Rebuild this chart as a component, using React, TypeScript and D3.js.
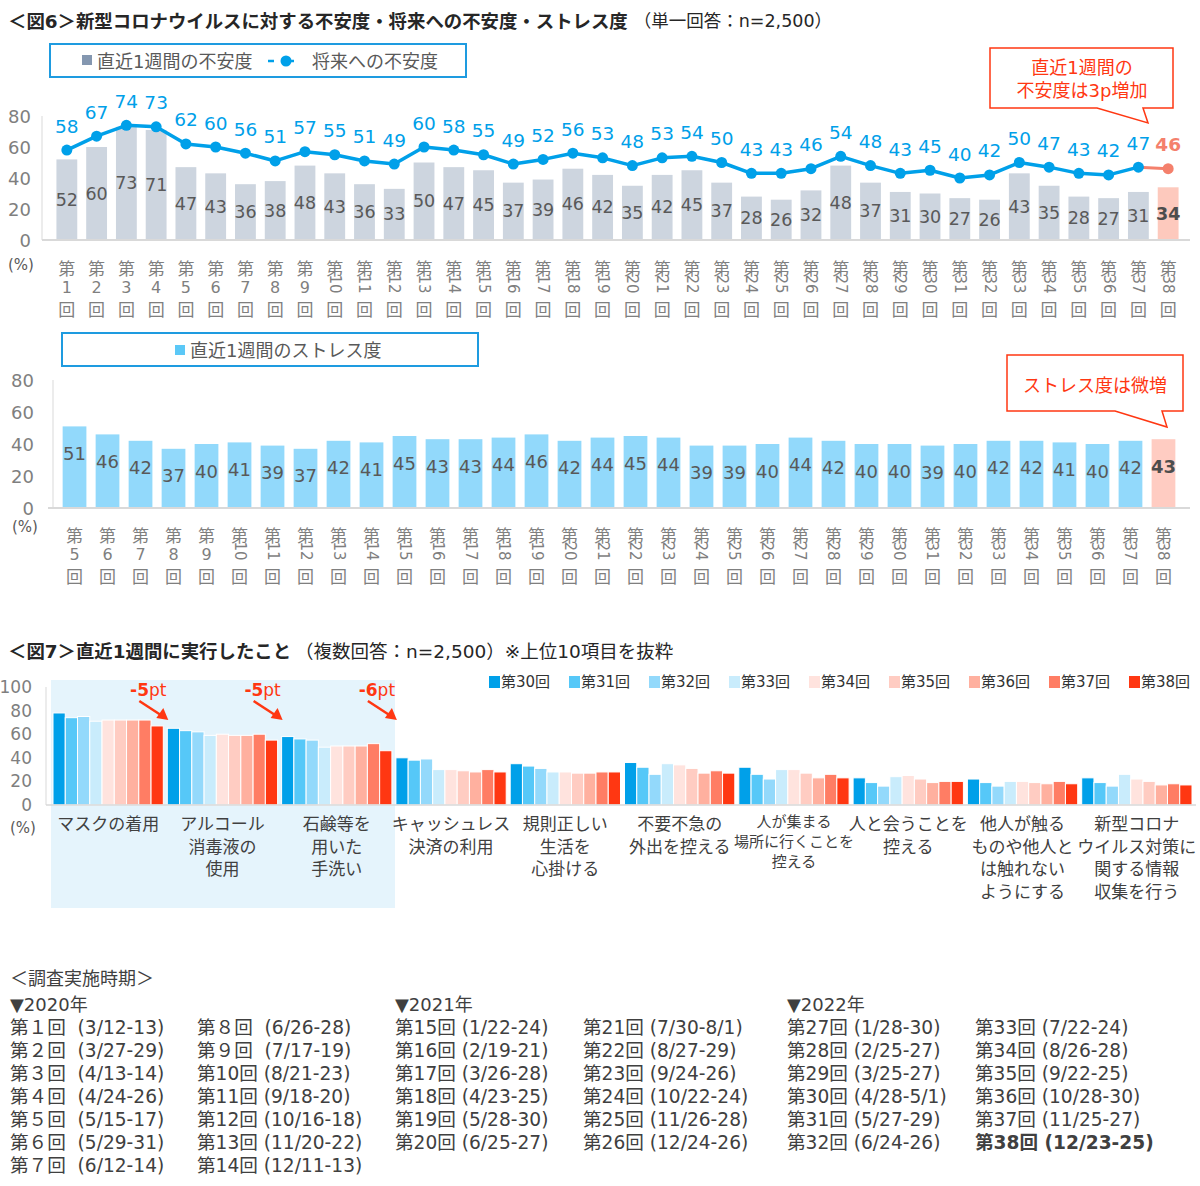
import React from 'react';
import * as d3 from 'd3';

const FONT = "'DejaVu Sans', 'Noto Sans CJK JP', sans-serif";
const FONT_JP = "'Noto Sans CJK JP', sans-serif";

// ---------- Figure 6 data ----------
const rounds1 = d3.range(1, 39);
const anxietyRecent = [52, 60, 73, 71, 47, 43, 36, 38, 48, 43, 36, 33, 50, 47, 45, 37, 39, 46, 42, 35, 42, 45, 37, 28, 26, 32, 48, 37, 31, 30, 27, 26, 43, 35, 28, 27, 31, 34];
const anxietyFuture = [58, 67, 74, 73, 62, 60, 56, 51, 57, 55, 51, 49, 60, 58, 55, 49, 52, 56, 53, 48, 53, 54, 50, 43, 43, 46, 54, 48, 43, 45, 40, 42, 50, 47, 43, 42, 47, 46];
const rounds2 = d3.range(5, 39);
const stressRecent = [51, 46, 42, 37, 40, 41, 39, 37, 42, 41, 45, 43, 43, 44, 46, 42, 44, 45, 44, 39, 39, 40, 44, 42, 40, 40, 39, 40, 42, 42, 41, 40, 42, 43];
const ticks80 = [0, 20, 40, 60, 80];

// ---------- Figure 7 data ----------
const actRounds = ['第30回', '第31回', '第32回', '第33回', '第34回', '第35回', '第36回', '第37回', '第38回'];
const actColors = ['#00A0E9', '#56C8F8', '#93D9FB', '#C9ECFC', '#FFE3DE', '#FFCCC2', '#FFB09F', '#FF7D64', '#FF3712'];
const actCategories = [
  ['マスクの着用'],
  ['アルコール', '消毒液の', '使用'],
  ['石鹸等を', '用いた', '手洗い'],
  ['キャッシュレス', '決済の利用'],
  ['規則正しい', '生活を', '心掛ける'],
  ['不要不急の', '外出を控える'],
  ['人が集まる', '場所に行くことを', '控える'],
  ['人と会うことを', '控える'],
  ['他人が触る', 'ものや他人と', 'は触れない', 'ようにする'],
  ['新型コロナ', 'ウイルス対策に', '関する情報', '収集を行う'],
];
const actValues = [
  [78, 74, 75, 71, 72, 72, 72, 72, 67],
  [65, 63, 62, 59, 60, 59, 59, 60, 55],
  [58, 56, 55, 49, 50, 50, 50, 52, 46],
  [40, 38, 39, 30, 30, 29, 28, 30, 28],
  [35, 33, 31, 28, 28, 27, 27, 28, 28],
  [36, 32, 26, 35, 34, 31, 27, 29, 27],
  [32, 26, 22, 30, 30, 27, 23, 26, 23],
  [23, 19, 16, 24, 25, 22, 19, 20, 20],
  [22, 19, 16, 20, 20, 19, 18, 20, 18],
  [23, 19, 16, 26, 22, 20, 17, 18, 17],
];
const ticks100 = [0, 20, 40, 60, 80, 100];
const diffNotes = ['-5', '-5', '-6'];

// ---------- Schedule ----------
const scheduleCols = [
  ['第１回\u00A0 (3/12-13)', '第２回\u00A0 (3/27-29)', '第３回\u00A0 (4/13-14)', '第４回\u00A0 (4/24-26)', '第５回\u00A0 (5/15-17)', '第６回\u00A0 (5/29-31)', '第７回\u00A0 (6/12-14)'],
  ['第８回\u00A0 (6/26-28)', '第９回\u00A0 (7/17-19)', '第10回 (8/21-23)', '第11回 (9/18-20)', '第12回 (10/16-18)', '第13回 (11/20-22)', '第14回 (12/11-13)'],
  ['第15回 (1/22-24)', '第16回 (2/19-21)', '第17回 (3/26-28)', '第18回 (4/23-25)', '第19回 (5/28-30)', '第20回 (6/25-27)'],
  ['第21回 (7/30-8/1)', '第22回 (8/27-29)', '第23回 (9/24-26)', '第24回 (10/22-24)', '第25回 (11/26-28)', '第26回 (12/24-26)'],
  ['第27回 (1/28-30)', '第28回 (2/25-27)', '第29回 (3/25-27)', '第30回 (4/28-5/1)', '第31回 (5/27-29)', '第32回 (6/24-26)'],
  ['第33回 (7/22-24)', '第34回 (8/26-28)', '第35回 (9/22-25)', '第36回 (10/28-30)', '第37回 (11/25-27)', '第38回 (12/23-25)'],
];
const scheduleYears = ['▼2020年', '▼2021年', '▼2022年'];

const GRAY_TXT = '#595959';
const AXIS_TXT = '#7F7F7F';
const RED = '#FF3712';

function RoundLabel({ cx, n, yA, yB1, yB2, yC }: { cx: number; n: number; yA: number; yB1: number; yB2: number; yC: number }) {
  return (
    <g fill={AXIS_TXT} fontSize={17} textAnchor="middle">
      <text x={cx} y={yA} dominantBaseline="central" fontFamily={FONT_JP}>第</text>
      {n < 10 ? (
        <text x={cx} y={yB1} dominantBaseline="central" fontSize={16}>{n}</text>
      ) : (
        <text transform={`translate(${cx},${yB2}) rotate(90)`} dominantBaseline="central" fontSize={15}>{n}</text>
      )}
      <text x={cx} y={yC} dominantBaseline="central" fontFamily={FONT_JP}>回</text>
    </g>
  );
}

export default function App() {
  // Figure 6 top
  const x1 = d3.scaleBand<number>().domain(rounds1).range([47.5, 1187.5]).padding(0.3);
  const y1 = d3.scaleLinear().domain([0, 80]).range([240, 116]);
  const cx1 = (r: number) => (x1(r) as number) + x1.bandwidth() / 2;
  const linePts = anxietyFuture.map((v, i) => [cx1(rounds1[i]), y1(v)] as [number, number]);
  const lineGen = d3.line();
  const mainLine = lineGen(linePts.slice(0, linePts.length - 1)) as string;
  const lastLine = lineGen(linePts.slice(linePts.length - 2)) as string;

  // Figure 6 stress
  const x2 = d3.scaleBand<number>().domain(rounds2).range([53.4, 1184.6]).padding(0.28);
  const y2 = d3.scaleLinear().domain([0, 80]).range([508, 380]);
  const cx2 = (r: number) => (x2(r) as number) + x2.bandwidth() / 2;

  // Figure 7
  const catIdx = actCategories.map((_, i) => i);
  const gx = d3.scaleBand<number>().domain(catIdx).range([51, 1194]).paddingInner(0.035).paddingOuter(0.0175);
  const ix = d3.scaleBand<string>().domain(actRounds).range([0, gx.bandwidth()]);
  const y7 = d3.scaleLinear().domain([0, 100]).range([805, 687]);

  const schedX = [10, 197, 395, 583, 787, 975];
  const rowY = (i: number) => 1027 + i * 23;

  return (
    <div style={{ position: 'absolute', left: 0, top: 0 }}>
      <svg width={1200} height={1186} fontFamily={FONT} style={{ display: 'block', background: '#fff' }}>
        <rect x={0} y={0} width={1200} height={1186} fill="#fff" />
        {/* Title fig6 */}
        <text x={8} y={21} dominantBaseline="central" fill="#262626">
          <tspan fontSize={18.4} fontWeight="bold">＜図6＞新型コロナウイルスに対する不安度・将来への不安度・ストレス度</tspan>
          <tspan fontSize={17.5} dx={6}>（単一回答：n=2,500）</tspan>
        </text>

        {/* Legend 1 */}
        <rect x={50} y={44} width={416} height={33} fill="#fff" stroke="#1E9BE0" strokeWidth={2} />
        <rect x={82} y={55} width={10} height={10} fill="#8497B0" />
        <text x={97} y={61} fontSize={18} fill={GRAY_TXT} dominantBaseline="central">直近1週間の不安度</text>
        <line x1={268} y1={61} x2={304} y2={61} stroke="#00A0E9" strokeWidth={2.5} strokeDasharray="6 14" />
        <circle cx={286} cy={61} r={5.5} fill="#00A0E9" />
        <text x={312} y={61} fontSize={18} fill={GRAY_TXT} dominantBaseline="central">将来への不安度</text>

        {/* Axes top */}
        <line x1={42} y1={116} x2={42} y2={240} stroke="#D9D9D9" strokeWidth={1} />
        {ticks80.map((t) => (
          <text key={t} x={31} y={y1(t)} fontSize={18} fill={AXIS_TXT} textAnchor="end" dominantBaseline="central">{t}</text>
        ))}
        <text x={8} y={265} fontSize={15} fill={GRAY_TXT} dominantBaseline="central">(%)</text>

        {/* Bars top */}
        {anxietyRecent.map((v, i) => {
          const r = rounds1[i];
          const last = i === anxietyRecent.length - 1;
          return (
            <g key={r}>
              <rect x={x1(r)} y={y1(v)} width={x1.bandwidth()} height={y1(0) - y1(v)} fill={last ? '#FDC9BD' : '#CDD5DF'} />
              <text x={cx1(r)} y={(y1(v) + y1(0)) / 2} fontSize={17.5} textAnchor="middle" dominantBaseline="central"
                fill={last ? '#4D4D4D' : GRAY_TXT} fontWeight={last ? 'bold' : 'normal'}>{v}</text>
            </g>
          );
        })}
        <line x1={42} y1={240} x2={1190} y2={240} stroke="#D9D9D9" strokeWidth={2} />

        {/* Line top */}
        <path d={mainLine} fill="none" stroke="#00A0E9" strokeWidth={3.5} strokeLinejoin="round" />
        <path d={lastLine} fill="none" stroke="#F4806C" strokeWidth={3} />
        {linePts.map((p, i) => {
          const last = i === linePts.length - 1;
          return (
            <g key={i}>
              <circle cx={p[0]} cy={p[1]} r={5.5} fill={last ? '#F4806C' : '#00A0E9'} />
              <text x={p[0]} y={p[1] - 24} fontSize={18.5} textAnchor="middle" dominantBaseline="central"
                fill={last ? '#F4806C' : '#00A0E9'} fontWeight={last ? 'bold' : 'normal'}>{anxietyFuture[i]}</text>
            </g>
          );
        })}
        {rounds1.map((r) => (
          <RoundLabel key={r} cx={cx1(r)} n={r} yA={267} yB1={287} yB2={284} yC={308} />
        ))}

        {/* Callout 1 */}
        <path d="M990,48 H1173 V108 H1143 L1148,123 L1097,108 H990 Z" fill="#fff" stroke={RED} strokeWidth={1.5} />
        <text x={1082} y={67} fontSize={18} fill={RED} textAnchor="middle" dominantBaseline="central">直近1週間の</text>
        <text x={1082} y={90} fontSize={18} fill={RED} textAnchor="middle" dominantBaseline="central">不安度は3p増加</text>

        {/* Legend 2 */}
        <rect x={62} y={333} width={416} height={33} fill="#fff" stroke="#1E9BE0" strokeWidth={2} />
        <rect x={175} y={345} width={10} height={10} fill="#5BC8F7" />
        <text x={190} y={350} fontSize={18} fill={GRAY_TXT} dominantBaseline="central">直近1週間のストレス度</text>

        {/* Axes stress */}
        <line x1={53} y1={380} x2={53} y2={508} stroke="#D9D9D9" strokeWidth={1} />
        {ticks80.map((t) => (
          <text key={t} x={34} y={y2(t)} fontSize={18} fill={AXIS_TXT} textAnchor="end" dominantBaseline="central">{t}</text>
        ))}
        <text x={12} y={527} fontSize={15} fill={GRAY_TXT} dominantBaseline="central">(%)</text>
        {stressRecent.map((v, i) => {
          const r = rounds2[i];
          const last = i === stressRecent.length - 1;
          return (
            <g key={r}>
              <rect x={x2(r)} y={y2(v)} width={x2.bandwidth()} height={y2(0) - y2(v)} fill={last ? '#FFCCC2' : '#92D9FB'} />
              <text x={cx2(r)} y={y2(v) + 27} fontSize={18} textAnchor="middle" dominantBaseline="central"
                fill={last ? '#4D4D4D' : GRAY_TXT} fontWeight={last ? 'bold' : 'normal'}>{v}</text>
            </g>
          );
        })}
        <line x1={48} y1={508} x2={1190} y2={508} stroke="#D9D9D9" strokeWidth={2} />
        {rounds2.map((r) => (
          <RoundLabel key={r} cx={cx2(r)} n={r} yA={534} yB1={554} yB2={551} yC={575} />
        ))}

        {/* Callout 2 */}
        <path d="M1007,355 H1183 V411 H1162 L1167,427 L1115,411 H1007 Z" fill="#fff" stroke={RED} strokeWidth={1.5} />
        <text x={1095} y={385} fontSize={18} fill={RED} textAnchor="middle" dominantBaseline="central">ストレス度は微増</text>

        {/* Title fig7 */}
        <text x={8} y={651} dominantBaseline="central" fill="#262626">
          <tspan fontSize={18.4} fontWeight="bold">＜図7＞直近1週間に実行したこと</tspan>
          <tspan fontSize={18.5} dx={4}>（複数回答：n=2,500）※上位10項目を抜粋</tspan>
        </text>

        {/* Legend fig7 */}
        {actRounds.map((r, i) => (
          <g key={r}>
            <rect x={489 + i * 80} y={676} width={11} height={12} fill={actColors[i]} />
            <text x={501 + i * 80} y={682} fontSize={15} fill="#333" dominantBaseline="central">{r}</text>
          </g>
        ))}

        {/* Shaded background */}
        <rect x={51} y={680} width={344} height={228} fill="#E5F4FC" />

        {/* Axes fig7 */}
        <line x1={46} y1={687} x2={46} y2={805} stroke="#D9D9D9" strokeWidth={1} />
        {ticks100.map((t) => (
          <text key={t} x={32} y={y7(t)} fontSize={17} fill={AXIS_TXT} textAnchor="end" dominantBaseline="central">{t}</text>
        ))}
        <text x={10} y={828} fontSize={15} fill={GRAY_TXT} dominantBaseline="central">(%)</text>

        {actValues.map((vals, gi) => (
          <g key={gi} transform={`translate(${gx(gi)},0)`}>
            {vals.map((v, bi) => (
              <rect key={bi} x={ix(actRounds[bi])} y={y7(v)} width={ix.bandwidth()} height={y7(0) - y7(v)}
                fill={actColors[bi]} stroke="#fff" strokeWidth={1} />
            ))}
          </g>
        ))}
        <line x1={46} y1={805} x2={1196} y2={805} stroke="#D9D9D9" strokeWidth={1.5} />

        {/* Category labels */}
        {actCategories.map((lines, gi) => {
          const cx = (gx(gi) as number) + gx.bandwidth() / 2;
          const small = gi === 6;
          const lh = small ? 20 : 22.5;
          return (
            <g key={gi} fill="#404040" fontSize={small ? 15 : 17} textAnchor="middle">
              {lines.map((l, li) => (
                <text key={li} x={cx} y={(small ? 822 : 824) + li * lh} dominantBaseline="central">{l}</text>
              ))}
            </g>
          );
        })}

        {/* Diff annotations */}
        {diffNotes.map((d, i) => {
          const end = (gx(i) as number) + gx.bandwidth() + 4;
          return (
            <g key={i}>
              <text x={end - 19} y={690} fontSize={17} fill={RED} textAnchor="middle" dominantBaseline="central">
                <tspan fontWeight="bold">{d}</tspan>
                <tspan>pt</tspan>
              </text>
              <line x1={end - 28} y1={701} x2={end - 5} y2={716} stroke={RED} strokeWidth={2.5} />
              <path d={`M${end + 1},${720} L${end - 11},${718} L${end - 4},${708} Z`} fill={RED} />
            </g>
          );
        })}

        {/* Schedule */}
        <text x={10} y={978} fontSize={18} fill="#404040" dominantBaseline="central">＜調査実施時期＞</text>
        {scheduleYears.map((yname, i) => (
          <text key={yname} x={schedX[i * 2]} y={1004} fontSize={18} fill="#404040" dominantBaseline="central">{yname}</text>
        ))}
        {scheduleCols.map((col, ci) => (
          <g key={ci}>
            {col.map((s, ri) => {
              const bold = ci === 5 && ri === col.length - 1;
              return (
                <text key={ri} x={schedX[ci]} y={rowY(ri)} fontSize={18.6} fill="#404040" dominantBaseline="central"
                  fontWeight={bold ? 'bold' : 'normal'}>{s}</text>
              );
            })}
          </g>
        ))}
      </svg>
    </div>
  );
}
